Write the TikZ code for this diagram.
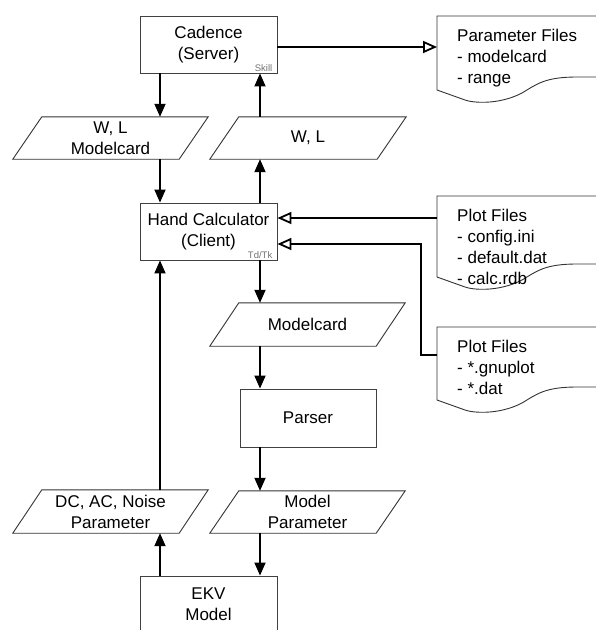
\documentclass[tikz,border=0pt]{standalone}
\usepackage{fontspec}
\setmainfont{Liberation Sans}
\usetikzlibrary{arrows.meta,calc}
\newcommand\parashape[1]{\draw[pline] ($(#1.north west)+(29,0)$) -- (#1.north east) -- ($(#1.south east)+(-29,0)$) -- (#1.south west) -- cycle;}
\newcommand\docshape[3]{\draw[pline,fill=white] (#1,#2) -- (600,#2) -- (600,#2+#3-13) -- (#1+140,#2+#3-13)
  .. controls (#1+108,#2+#3-13) and (#1+100,#2+#3-6) .. (#1+85,#2+#3+3)
  .. controls (#1+62,#2+#3+15) and (#1+36,#2+#3+13) .. (#1+28,#2+#3+10) -- (#1,#2+#3) -- cycle;}
\begin{document}
\begin{tikzpicture}[x=1pt,y=-1pt,
  every node/.style={font=\fontsize{17}{21}\selectfont},
  box/.style={draw=black!75, line width=0.9pt, minimum width=137pt, minimum height=57pt, inner sep=0pt, align=center},
  para/.style={minimum height=42pt, inner sep=0pt, align=center},
  pline/.style={draw=black!80, line width=0.9pt},
  doctext/.style={anchor=north west, inner xsep=20pt, inner ysep=12.5pt, align=left},
  tag/.style={font=\fontsize{9.5}{11}\selectfont, text=black!55, anchor=south east, inner xsep=5pt, inner ysep=2pt},
  flow/.style={line width=1.8pt, -{Triangle[length=13pt,width=11pt]}},
  opena/.style={line width=1.8pt, -{Triangle[open,length=14pt,width=12pt,fill=white]}}]
\useasboundingbox[fill=white] (0,0) rectangle (596,630);
\coordinate (xl) at (160,0);
\coordinate (xr) at (260,0);
% boxes
\node[box] (cad) at (208.5,44.5) {Cadence\\(Server)};
\node[tag] (sk) at (cad.south east) {Skill};
\node[box] (hc) at (208.5,231.5) {Hand Calculator\\(Client)};
\node[tag] (tt) at (hc.south east) {Td/Tk};
\node[box, minimum width=136pt, minimum height=58pt] (parser) at (308,418) {Parser};
\node[box] (ekv) at (208.5,604.5) {EKV\\Model};
% parallelograms
\node[para, minimum width=195pt] (p1) at (110.5,138) {W, L\\Modelcard};
\node[para, minimum width=196pt] (p2) at (308,138) {W, L};
\node[para, minimum width=195pt, minimum height=43pt] (p3) at (307.5,324.5) {Modelcard};
\node[para, minimum width=195pt] (p4) at (307.5,512) {Model\\Parameter};
\node[para, minimum width=195pt, minimum height=43pt] (p5) at (110.5,511.5) {DC, AC, Noise\\Parameter};
\parashape{p1}\parashape{p2}\parashape{p3}\parashape{p4}\parashape{p5}
% documents
\docshape{437}{16}{74}
\node[doctext] (pf) at (437,16) {Parameter Files\\- modelcard\\- range};
\docshape{437}{196}{81}
\node[doctext] (pl1) at (437,196) {Plot Files\\- config.ini\\- default.dat\\- calc.rdb};
\docshape{437}{327}{73}
\node[doctext] (pl2) at (437,327) {Plot Files\\- *.gnuplot\\- *.dat};
% vertical flows
\draw[flow] (cad.south -| xl) -- (p1.north -| xl);
\draw[flow] (p2.north -| xr) -- (cad.south -| xr);
\draw[flow] (p1.south -| xl) -- (hc.north -| xl);
\draw[flow] (hc.north -| xr) -- (p2.south -| xr);
\draw[flow] (hc.south -| xr) -- (p3.north -| xr);
\draw[flow] (p3.south -| xr) -- (parser.north -| xr);
\draw[flow] (parser.south -| xr) -- (p4.north -| xr);
\draw[flow] (p4.south -| xr) -- (ekv.north -| xr);
\draw[flow] (ekv.north -| xl) -- (p5.south -| xl);
\draw[flow] (p5.north -| xl) -- (hc.south -| xl);
% file connectors
\coordinate (c1) at ($(cad.east)+(0,2.5)$);
\coordinate (a1) at ($(hc.east)+(0,-13.5)$);
\coordinate (a2) at ($(hc.east)+(0,12.5)$);
\draw[opena] (c1) -- (c1 -| pf.west);
\draw[opena] (a1 -| pl1.west) -- (a1);
\draw[opena] ($(pl2.north west)+(0,28)$) -- ++(-16,0) |- (a2);
\end{tikzpicture}
\end{document}
